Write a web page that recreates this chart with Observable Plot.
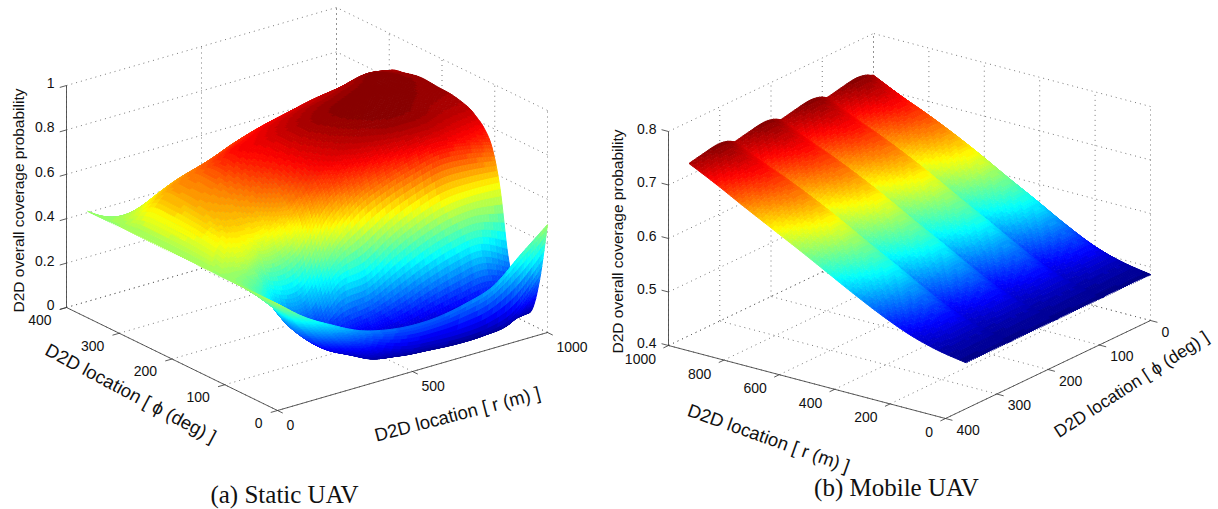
<!DOCTYPE html>
<html><head><meta charset="utf-8">
<script src="https://cdn.jsdelivr.net/npm/d3@7"></script>
<script src="https://cdn.jsdelivr.net/npm/@observablehq/plot@0.6"></script>
<style>html,body{margin:0;padding:0;background:#fff}#c{display:flex;width:1218px;height:509px}svg{display:block}</style>
</head><body><div id="c"></div>
<script>
// (a) Static UAV: coverage probability, rows = r, columns = phi
const staticR = [0,100,200,300,400,500,600,700,800,900,1000];
const staticPhi = [0,15,30,45,60,75,90,105,120,135,150,180,210,240,270,300,330,360];
const staticP = [
[.48,.48,.48,.48,.48,.48,.48,.48,.48,.48,.48,.48,.48,.48,.48,.48,.48,.48],
[.385,.36,.35,.35,.36,.38,.41,.46,.53,.57,.59,.61,.62,.625,.62,.55,.47,.39],
[.315,.27,.235,.215,.205,.21,.24,.32,.45,.55,.61,.65,.67,.68,.675,.61,.50,.32],
[.255,.19,.145,.11,.10,.12,.19,.31,.50,.61,.67,.72,.75,.77,.725,.64,.50,.26],
[.222,.12,.06,.055,.08,.15,.33,.50,.67,.74,.77,.79,.80,.80,.765,.69,.52,.225],
[.208,.075,.035,.04,.075,.17,.36,.62,.74,.80,.82,.84,.85,.835,.80,.73,.55,.21],
[.213,.06,.028,.035,.07,.21,.44,.68,.78,.83,.85,.87,.875,.86,.827,.76,.58,.215],
[.238,.05,.03,.04,.09,.26,.50,.72,.81,.85,.87,.885,.89,.875,.846,.79,.60,.24],
[.28,.055,.035,.05,.11,.30,.54,.75,.82,.85,.87,.885,.895,.885,.865,.81,.63,.28],
[.385,.09,.04,.06,.13,.32,.55,.74,.80,.83,.85,.87,.88,.885,.885,.84,.68,.385],
[.486,.22,.065,.055,.11,.26,.545,.71,.78,.815,.84,.86,.865,.87,.855,.83,.72,.486]];
// (b) Mobile UAV
const mobileR = [0,100,200,300,400,500,600,700,800,900,1000];
const mobilePhi = [0,5,15,30,45,60,75,90,95,105,120,135,150,165,180,185,195,210,225,240,255,270,275,285,300,315,330,345,360];
const mobileP = [
[.486,.486,.486,.486,.486,.486,.486,.486,.486,.486,.486,.486,.486,.486,.486,.486,.486,.486,.486,.486,.486,.486,.486,.486,.486,.486,.486,.486,.486],
[.495,.497,.498,.498,.498,.497,.496,.495,.497,.498,.498,.498,.497,.496,.495,.497,.498,.498,.498,.497,.496,.495,.497,.498,.498,.498,.497,.496,.495],
[.510,.516,.519,.520,.518,.516,.513,.510,.516,.519,.520,.518,.516,.513,.510,.516,.519,.520,.518,.516,.513,.510,.516,.519,.520,.518,.516,.513,.510],
[.532,.542,.548,.549,.546,.542,.537,.532,.542,.548,.549,.546,.542,.537,.532,.542,.548,.549,.546,.542,.537,.532,.542,.548,.549,.546,.542,.537,.532],
[.558,.571,.579,.580,.577,.571,.565,.558,.571,.579,.580,.577,.571,.565,.558,.571,.579,.580,.577,.571,.565,.558,.571,.579,.580,.577,.571,.565,.558],
[.586,.599,.607,.608,.605,.599,.593,.586,.599,.607,.608,.605,.599,.593,.586,.599,.607,.608,.605,.599,.593,.586,.599,.607,.608,.605,.599,.593,.586],
[.614,.628,.637,.638,.634,.628,.621,.614,.628,.637,.638,.634,.628,.621,.614,.628,.637,.638,.634,.628,.621,.614,.628,.637,.638,.634,.628,.621,.614],
[.641,.655,.664,.665,.661,.655,.648,.641,.655,.664,.665,.661,.655,.648,.641,.655,.664,.665,.661,.655,.648,.641,.655,.664,.665,.661,.655,.648,.641],
[.668,.680,.687,.688,.685,.680,.674,.668,.680,.687,.688,.685,.680,.674,.668,.680,.687,.688,.685,.680,.674,.668,.680,.687,.688,.685,.680,.674,.668],
[.696,.702,.707,.710,.708,.704,.700,.696,.702,.707,.710,.708,.704,.700,.696,.702,.707,.710,.708,.704,.700,.696,.702,.707,.710,.708,.704,.700,.696],
[.722,.724,.729,.732,.731,.728,.725,.722,.724,.729,.732,.731,.728,.725,.722,.724,.729,.732,.731,.728,.725,.722,.724,.729,.732,.731,.728,.725,.722]];
// Tick values
const staticRTicks = [0,500,1000], staticPhiTicks = [0,100,200,300,400], staticZTicks = [0,.2,.4,.6,.8,1];
const mobileRTicks = [0,200,400,600,800,1000], mobilePhiTicks = [0,100,200,300,400], mobileZTicks = [.4,.5,.6,.7,.8];
const zLabel = "D2D overall coverage probability", rLabel = "D2D location [ r (m) ]", phiLabel = "D2D location [ \u03d5 (deg) ]";
const jetStops = [0,.125,.375,.625,.875,1];
const jetColors = ["rgb(0,0,128)","rgb(0,0,255)","rgb(0,255,255)","rgb(255,255,0)","rgb(255,0,0)","rgb(128,0,0)"];
const AXIS="#333", GRID="#555", SANS="Liberation Sans, Arial, sans-serif", SERIF="Liberation Serif, Times New Roman, serif";

const cr=(a,b,c,d,t)=>b+.5*t*(c-a+t*(2*a-5*b+4*c-d+t*(3*(b-c)+d-a)));
function refine1(arr,n){const out=[],L=arr.length;for(let i=0;i<L-1;i++){const a=arr[Math.max(i-1,0)],b=arr[i],c=arr[i+1],d=arr[Math.min(i+2,L-1)];
  for(let k=0;k<n;k++)out.push(cr(a,b,c,d,k/n));}out.push(arr[L-1]);return out;}
// display shading only, as a surface plot with interpolated shading does
function shade(rs,phis,Z,nr,np){const rr=refine1(rs,nr),pp=refine1(phis,np);
  const byR=Z.map(row=>refine1(row,np));const cols=pp.map((_,j)=>refine1(byR.map(r=>r[j]),nr));
  return {rr,pp,zz:rr.map((_,i)=>pp.map((_,j)=>cols[j][i]))};}

function chart(c){
  const P=(r,phi,z)=>[c.ox+c.rv[0]*r/1000+c.pv[0]*phi/400, c.oy+c.rv[1]*r/1000+c.pv[1]*phi/400-c.zs*(z-c.z0)];
  const {rr,pp,zz}=shade(c.R,c.Phi,c.Z,c.nr,c.np);
  const [lo,hi]=c.clim, levels=64, quads=[];
  for(let i=0;i<rr.length-1;i++)for(let j=0;j<pp.length-1;j++){
    const zm=(zz[i][j]+zz[i+1][j]+zz[i][j+1]+zz[i+1][j+1])/4;
    const level=Math.min(levels-1,Math.max(0,Math.floor((zm-lo)/(hi-lo)*levels)));
    quads.push({i,j,d:c.depth((rr[i]+rr[i+1])/2/1000,(pp[j]+pp[j+1])/2/400,zm),v:lo+(level+.5)/levels*(hi-lo)});
  }
  quads.sort((a,b)=>b.d-a.d);
  const pts=[];
  quads.forEach((q,id)=>{for(const [a,b] of [[0,0],[1,0],[1,1],[0,1]]){const [x,y]=P(rr[q.i+a],pp[q.j+b],zz[q.i+a][q.j+b]);pts.push({x,y,id,v:q.v});}});
  // grid
  const seg=(a,b)=>{const [x1,y1]=P(...a),[x2,y2]=P(...b);return {x1,y1,x2,y2};};
  const zb=c.zTicks[0], zt=c.zTicks[c.zTicks.length-1], grid=[];
  for(const z of c.zTicks){grid.push(seg([c.wallR,c.frontPhi,z],[c.wallR,c.wallPhi,z]),seg([c.frontR,c.wallPhi,z],[c.wallR,c.wallPhi,z]));}
  for(const r of c.rTicks){grid.push(seg([r,c.wallPhi,zb],[r,c.wallPhi,zt]),seg([r,c.frontPhi,zb],[r,c.wallPhi,zb]));}
  for(const ph of c.phiTicks){grid.push(seg([c.wallR,ph,zb],[c.wallR,ph,zt]),seg([c.frontR,ph,zb],[c.wallR,ph,zb]));}
  // axes
  const axes=[seg([c.zR,c.zPhi,zb],[c.zR,c.zPhi,zt]),seg([c.frontR,c.frontPhi,zb],[c.wallR,c.frontPhi,zb]),seg([c.frontR,c.frontPhi,zb],[c.frontR,c.wallPhi,zb])];
  const tr=(c.wallR-c.frontR)*.025, tp=(c.wallPhi-c.frontPhi)*.025;
  for(const z of c.zTicks)axes.push(seg([c.zR,c.zPhi,z],[c.zR+(c.zR===c.frontR?-tr:tr),c.zPhi,z]));
  for(const r of c.rTicks)axes.push(seg([r,c.frontPhi,zb],[r,c.frontPhi-tp,zb]));
  for(const ph of c.phiTicks)axes.push(seg([c.frontR,ph,zb],[c.frontR-tr,ph,zb]));
  const lab=(vals,f,fmt=String)=>vals.map(v=>{const [x,y]=f(v);return {x,y,t:fmt(v)};});
  const font={fontFamily:SANS,fill:"#111"};
  const stops=jetStops.map(s=>lo+s*(hi-lo));
  const marks=[
    Plot.link(grid,{x1:"x1",y1:"y1",x2:"x2",y2:"y2",stroke:GRID,strokeWidth:.8,strokeDasharray:"1 4"}),
    Plot.link(axes,{x1:"x1",y1:"y1",x2:"x2",y2:"y2",stroke:AXIS,strokeWidth:.8}),
    Plot.line(pts,{x:"x",y:"y",z:"id",fill:"v",stroke:"v",strokeWidth:1}),
    Plot.text(lab(c.zTicks,z=>P(c.zR,c.zPhi,z),c.zFmt),{x:"x",y:"y",text:"t",textAnchor:"end",dx:-12,dy:-2,fontSize:14,...font}),
    Plot.text(lab(c.rTicks,r=>P(r,c.frontPhi,zb)),{x:"x",y:"y",text:"t",textAnchor:c.rAnchor,dx:c.rDx,dy:c.rDy,fontSize:14,...font}),
    Plot.text(lab(c.phiTicks,ph=>P(c.frontR,ph,zb)),{x:"x",y:"y",text:"t",textAnchor:c.pAnchor,dx:c.pDx,dy:c.pDy,fontSize:14,...font}),
    Plot.text([{x:c.zl[0],y:c.zl[1],t:zLabel}],{x:"x",y:"y",text:"t",rotate:-90,fontSize:15.5,...font}),
    Plot.text([{x:c.rl[0],y:c.rl[1],t:rLabel}],{x:"x",y:"y",text:"t",rotate:c.rl[2],fontSize:18.5,...font}),
    Plot.text([{x:c.pl[0],y:c.pl[1],t:phiLabel}],{x:"x",y:"y",text:"t",rotate:c.pl[2],fontSize:c.pf,...font}),
    Plot.text([{x:c.cap[0],y:c.cap[1],t:c.caption}],{x:"x",y:"y",text:"t",fontSize:25,fontFamily:SERIF,fill:"#111"})
  ];
  return Plot.plot({width:609,height:509,margin:0,
    x:{domain:c.xd,range:[0,609],axis:null},y:{domain:[0,509],range:[0,509],axis:null},
    color:{type:"linear",domain:stops,range:jetColors,clamp:true},
    style:{background:"#fff"},marks});
}
const host=document.getElementById("c");
host.append(chart({R:staticR,Phi:staticPhi,Z:staticP,nr:10,np:8,clim:[.02,.89],
  ox:277,oy:410,rv:[270,-78],pv:[-211,-103],zs:222,z0:0,
  depth:(r,p,z)=>r+1.28*p-.945*z,
  rTicks:staticRTicks,phiTicks:staticPhiTicks,zTicks:staticZTicks,zFmt:String,
  frontR:0,wallR:1000,frontPhi:0,wallPhi:400,zR:0,zPhi:400,
  rAnchor:"start",rDx:9,rDy:15,pAnchor:"end",pDx:-15,pDy:13,
  zl:[19,200],rl:[457,414,-14.6],pl:[130,393,28],pf:18.5,cap:[284,494],caption:"(a) Static UAV",xd:[0,609]}));
host.append(chart({R:mobileR,Phi:mobilePhi,Z:mobileP,nr:10,np:4,clim:[.484,.732],
  ox:1150,oy:320,rv:[-277,-73],pv:[-205,98],zs:535,z0:.4,
  depth:(r,p,z)=>(1-p)+.74*r-.284*z,
  rTicks:mobileRTicks,phiTicks:mobilePhiTicks,zTicks:mobileZTicks,zFmt:d3.format(".1f"),
  frontR:0,wallR:1000,frontPhi:400,wallPhi:0,zR:1000,zPhi:400,
  rAnchor:"end",rDx:-12.5,rDy:14,pAnchor:"start",pDx:11,pDy:12,
  zl:[618,241],rl:[768,438,19.6],pl:[1131,384,-33],pf:17.5,cap:[896,487],caption:"(b) Mobile UAV",xd:[609,1218]}));
</script></body></html>
